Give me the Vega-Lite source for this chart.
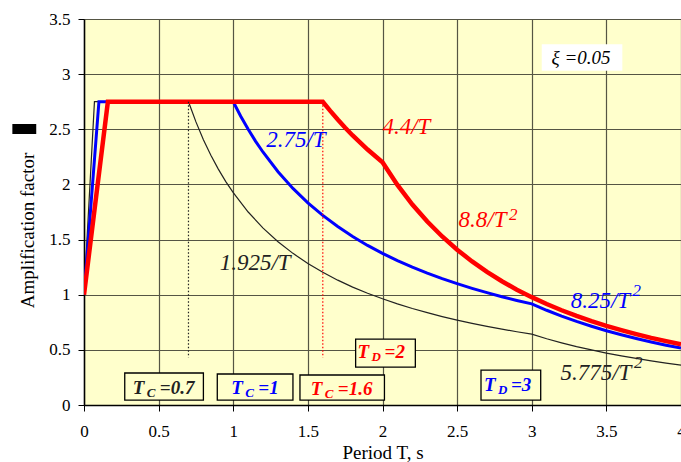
{
  "$schema": "https://vega.github.io/schema/vega-lite/v6.json",
  "width": 597,
  "height": 386,
  "autosize": {"type": "none"},
  "padding": {"left": 84, "top": 19, "right": 0, "bottom": 57},
  "background": "white",
  "config": {
    "view": {"stroke": null, "fill": "#FFFFCC"},
    "font": "Liberation Serif",
    "text": {"font": "Liberation Serif"},
    "axis": {
      "labelFont": "Liberation Serif",
      "titleFont": "Liberation Serif",
      "labelFontSize": 17,
      "titleFontSize": 19,
      "titleFontWeight": "normal",
      "labelColor": "black",
      "titleColor": "black",
      "tickColor": "black",
      "tickSize": 6,
      "domainColor": "black",
      "domainWidth": 1.5,
      "gridColor": "#555544",
      "gridWidth": 1.2,
      "gridOpacity": 1
    }
  },
  "datasets": {
    "curves": [
      {"T": 0, "A": 1, "s": "TC=0.7"}, {"T": 0.07, "A": 2.75, "s": "TC=0.7"}, {"T": 0.7, "A": 2.75, "s": "TC=0.7"},
      {"T": 0.75, "A": 2.567, "s": "TC=0.7"}, {"T": 0.8, "A": 2.406, "s": "TC=0.7"}, {"T": 0.85, "A": 2.265, "s": "TC=0.7"},
      {"T": 0.9, "A": 2.139, "s": "TC=0.7"}, {"T": 0.95, "A": 2.026, "s": "TC=0.7"}, {"T": 1.0, "A": 1.925, "s": "TC=0.7"},
      {"T": 1.1, "A": 1.75, "s": "TC=0.7"}, {"T": 1.2, "A": 1.604, "s": "TC=0.7"}, {"T": 1.3, "A": 1.481, "s": "TC=0.7"},
      {"T": 1.4, "A": 1.375, "s": "TC=0.7"}, {"T": 1.5, "A": 1.283, "s": "TC=0.7"}, {"T": 1.6, "A": 1.203, "s": "TC=0.7"},
      {"T": 1.7, "A": 1.132, "s": "TC=0.7"}, {"T": 1.8, "A": 1.069, "s": "TC=0.7"}, {"T": 1.9, "A": 1.013, "s": "TC=0.7"},
      {"T": 2.0, "A": 0.963, "s": "TC=0.7"}, {"T": 2.1, "A": 0.917, "s": "TC=0.7"}, {"T": 2.2, "A": 0.875, "s": "TC=0.7"},
      {"T": 2.3, "A": 0.837, "s": "TC=0.7"}, {"T": 2.4, "A": 0.802, "s": "TC=0.7"}, {"T": 2.5, "A": 0.77, "s": "TC=0.7"},
      {"T": 2.6, "A": 0.74, "s": "TC=0.7"}, {"T": 2.7, "A": 0.713, "s": "TC=0.7"}, {"T": 2.8, "A": 0.688, "s": "TC=0.7"},
      {"T": 2.9, "A": 0.664, "s": "TC=0.7"}, {"T": 3.0, "A": 0.642, "s": "TC=0.7"}, {"T": 3.1, "A": 0.601, "s": "TC=0.7"},
      {"T": 3.2, "A": 0.564, "s": "TC=0.7"}, {"T": 3.3, "A": 0.53, "s": "TC=0.7"}, {"T": 3.4, "A": 0.5, "s": "TC=0.7"},
      {"T": 3.5, "A": 0.471, "s": "TC=0.7"}, {"T": 3.6, "A": 0.446, "s": "TC=0.7"}, {"T": 3.7, "A": 0.422, "s": "TC=0.7"},
      {"T": 3.8, "A": 0.4, "s": "TC=0.7"}, {"T": 3.9, "A": 0.38, "s": "TC=0.7"}, {"T": 4.0, "A": 0.361, "s": "TC=0.7"},

      {"T": 0, "A": 1, "s": "TC=1"}, {"T": 0.1, "A": 2.75, "s": "TC=1"}, {"T": 1.0, "A": 2.75, "s": "TC=1"},
      {"T": 1.05, "A": 2.619, "s": "TC=1"}, {"T": 1.1, "A": 2.5, "s": "TC=1"}, {"T": 1.15, "A": 2.391, "s": "TC=1"},
      {"T": 1.2, "A": 2.292, "s": "TC=1"}, {"T": 1.3, "A": 2.115, "s": "TC=1"}, {"T": 1.4, "A": 1.964, "s": "TC=1"},
      {"T": 1.5, "A": 1.833, "s": "TC=1"}, {"T": 1.6, "A": 1.719, "s": "TC=1"}, {"T": 1.7, "A": 1.618, "s": "TC=1"},
      {"T": 1.8, "A": 1.528, "s": "TC=1"}, {"T": 1.9, "A": 1.447, "s": "TC=1"}, {"T": 2.0, "A": 1.375, "s": "TC=1"},
      {"T": 2.1, "A": 1.31, "s": "TC=1"}, {"T": 2.2, "A": 1.25, "s": "TC=1"}, {"T": 2.3, "A": 1.196, "s": "TC=1"},
      {"T": 2.4, "A": 1.146, "s": "TC=1"}, {"T": 2.5, "A": 1.1, "s": "TC=1"}, {"T": 2.6, "A": 1.058, "s": "TC=1"},
      {"T": 2.7, "A": 1.019, "s": "TC=1"}, {"T": 2.8, "A": 0.982, "s": "TC=1"}, {"T": 2.9, "A": 0.948, "s": "TC=1"},
      {"T": 3.0, "A": 0.917, "s": "TC=1"}, {"T": 3.1, "A": 0.859, "s": "TC=1"}, {"T": 3.2, "A": 0.806, "s": "TC=1"},
      {"T": 3.3, "A": 0.758, "s": "TC=1"}, {"T": 3.4, "A": 0.714, "s": "TC=1"}, {"T": 3.5, "A": 0.673, "s": "TC=1"},
      {"T": 3.6, "A": 0.637, "s": "TC=1"}, {"T": 3.7, "A": 0.603, "s": "TC=1"}, {"T": 3.8, "A": 0.571, "s": "TC=1"},
      {"T": 3.9, "A": 0.542, "s": "TC=1"}, {"T": 4.0, "A": 0.516, "s": "TC=1"},

      {"T": 0, "A": 1, "s": "TC=1.6"}, {"T": 0.16, "A": 2.75, "s": "TC=1.6"}, {"T": 1.6, "A": 2.75, "s": "TC=1.6"},
      {"T": 1.65, "A": 2.667, "s": "TC=1.6"}, {"T": 1.7, "A": 2.588, "s": "TC=1.6"}, {"T": 1.75, "A": 2.514, "s": "TC=1.6"},
      {"T": 1.8, "A": 2.444, "s": "TC=1.6"}, {"T": 1.9, "A": 2.316, "s": "TC=1.6"}, {"T": 2.0, "A": 2.2, "s": "TC=1.6"},
      {"T": 2.1, "A": 1.995, "s": "TC=1.6"}, {"T": 2.2, "A": 1.818, "s": "TC=1.6"}, {"T": 2.3, "A": 1.664, "s": "TC=1.6"},
      {"T": 2.4, "A": 1.528, "s": "TC=1.6"}, {"T": 2.5, "A": 1.408, "s": "TC=1.6"}, {"T": 2.6, "A": 1.302, "s": "TC=1.6"},
      {"T": 2.7, "A": 1.207, "s": "TC=1.6"}, {"T": 2.8, "A": 1.122, "s": "TC=1.6"}, {"T": 2.9, "A": 1.046, "s": "TC=1.6"},
      {"T": 3.0, "A": 0.978, "s": "TC=1.6"}, {"T": 3.1, "A": 0.916, "s": "TC=1.6"}, {"T": 3.2, "A": 0.859, "s": "TC=1.6"},
      {"T": 3.3, "A": 0.808, "s": "TC=1.6"}, {"T": 3.4, "A": 0.761, "s": "TC=1.6"}, {"T": 3.5, "A": 0.718, "s": "TC=1.6"},
      {"T": 3.6, "A": 0.679, "s": "TC=1.6"}, {"T": 3.7, "A": 0.643, "s": "TC=1.6"}, {"T": 3.8, "A": 0.609, "s": "TC=1.6"},
      {"T": 3.9, "A": 0.579, "s": "TC=1.6"}, {"T": 4.0, "A": 0.55, "s": "TC=1.6"}
    ],
    "rules": [
      {"T": 0.7, "y1": 2.75, "y2": 0.43, "s": "TC=0.7"},
      {"T": 1.6, "y1": 2.75, "y2": 0.43, "s": "TC=1.6"}
    ],
    "labels": [
      {"T": 1.42, "A": 2.4, "label": "2.75/T", "s": "TC=1"},
      {"T": 2.16, "A": 2.52, "label": "4.4/T", "s": "TC=1.6"},
      {"T": 2.67, "A": 1.677, "label": "8.8/T", "s": "TC=1.6"},
      {"T": 1.147, "A": 1.287, "label": "1.925/T", "s": "TC=0.7"},
      {"T": 3.46, "A": 0.943, "label": "8.25/T", "s": "TC=1"},
      {"T": 3.43, "A": 0.29, "label": "5.775/T", "s": "TC=0.7"}
    ],
    "sups": [
      {"T": 2.847, "A": 1.72, "s": "TC=1.6"},
      {"T": 3.675, "A": 1.034, "s": "TC=1"},
      {"T": 3.685, "A": 0.38, "s": "TC=0.7"}
    ],
    "boxes": [
      {"x1": 0.273, "x2": 0.8, "y1": 0.045, "y2": 0.29, "tx": 0.327, "ty": 0.1, "sub": "C", "val": "=0.7", "s": "TC=0.7"},
      {"x1": 0.893, "x2": 1.4, "y1": 0.045, "y2": 0.281, "tx": 0.987, "ty": 0.1, "sub": "C", "val": "=1", "s": "TC=1"},
      {"x1": 1.447, "x2": 2.013, "y1": 0.045, "y2": 0.272, "tx": 1.52, "ty": 0.09, "sub": "C", "val": "=1.6", "s": "TC=1.6"},
      {"x1": 1.82, "x2": 2.22, "y1": 0.344, "y2": 0.598, "tx": 1.833, "ty": 0.426, "sub": "D", "val": "=2", "s": "TC=1.6"},
      {"x1": 2.66, "x2": 3.06, "y1": 0.045, "y2": 0.317, "tx": 2.68, "ty": 0.127, "sub": "D", "val": "=3", "s": "TC=1"}
    ],
    "xi": [
      {"x1": 3.067, "x2": 3.607, "y1": 3.03, "y2": 3.27, "tx": 3.33, "ty": 3.15, "label": "ξ =0.05"}
    ],
    "marker": [
      {"x1": -0.48, "x2": -0.32, "y1": 2.457, "y2": 2.548}
    ]
  },
  "layer": [
    {
      "data": {"name": "curves"},
      "transform": [{"filter": "datum.s === 'TC=0.7'"}],
      "mark": {"type": "line", "strokeWidth": 1.2, "clip": true},
      "encoding": {
        "x": {"field": "T", "type": "quantitative", "scale": {"domain": [0, 4], "nice": false, "zero": false},
          "axis": {"values": [0, 0.5, 1, 1.5, 2, 2.5, 3, 3.5, 4], "format": "~g", "labelFlush": false, "labelPadding": 12, "title": "Period T, s", "titlePadding": 4, "labelFont": "Liberation Serif", "titleFont": "Liberation Serif"}},
        "y": {"field": "A", "type": "quantitative", "scale": {"domain": [0, 3.5], "nice": false, "zero": false},
          "axis": {"values": [0, 0.5, 1, 1.5, 2, 2.5, 3, 3.5], "format": "~g", "labelPadding": 8, "title": "Amplification factor", "titlePadding": 11, "titleY": 211, "labelFont": "Liberation Serif", "titleFont": "Liberation Serif"}},
        "color": {"field": "s", "type": "nominal", "scale": {"domain": ["TC=0.7", "TC=1", "TC=1.6"], "range": ["#222222", "#0000FF", "#FF0000"]}, "legend": null}
      }
    },
    {
      "data": {"name": "curves"},
      "transform": [{"filter": "datum.s === 'TC=1'"}],
      "mark": {"type": "line", "strokeWidth": 3, "clip": true},
      "encoding": {
        "x": {"field": "T", "type": "quantitative"},
        "y": {"field": "A", "type": "quantitative"},
        "color": {"field": "s", "type": "nominal", "legend": null}
      }
    },
    {
      "data": {"name": "curves"},
      "transform": [{"filter": "datum.s === 'TC=1.6'"}],
      "mark": {"type": "line", "strokeWidth": 4.5, "clip": true},
      "encoding": {
        "x": {"field": "T", "type": "quantitative"},
        "y": {"field": "A", "type": "quantitative"},
        "color": {"field": "s", "type": "nominal", "legend": null}
      }
    },
    {
      "data": {"name": "rules"},
      "mark": {"type": "rule", "strokeDash": [1.5, 2], "strokeWidth": 1.2},
      "encoding": {
        "x": {"field": "T", "type": "quantitative"},
        "y": {"field": "y1", "type": "quantitative"},
        "y2": {"field": "y2"},
        "color": {"field": "s", "type": "nominal", "legend": null}
      }
    },
    {
      "data": {"name": "labels"},
      "mark": {"type": "text", "font": "Liberation Serif", "fontStyle": "italic", "fontSize": 23, "align": "center", "baseline": "middle"},
      "encoding": {
        "x": {"field": "T", "type": "quantitative"},
        "y": {"field": "A", "type": "quantitative"},
        "text": {"field": "label"},
        "color": {"field": "s", "type": "nominal", "legend": null}
      }
    },
    {
      "data": {"name": "sups"},
      "mark": {"type": "text", "text": "2", "font": "Liberation Serif", "fontStyle": "italic", "fontSize": 17, "align": "left", "baseline": "middle"},
      "encoding": {
        "x": {"field": "T", "type": "quantitative"},
        "y": {"field": "A", "type": "quantitative"},
        "color": {"field": "s", "type": "nominal", "legend": null}
      }
    },
    {
      "data": {"name": "boxes"},
      "mark": {"type": "rect", "fill": "#FFFFCC", "stroke": "black", "strokeWidth": 1.3},
      "encoding": {
        "x": {"field": "x1", "type": "quantitative"},
        "x2": {"field": "x2"},
        "y": {"field": "y1", "type": "quantitative"},
        "y2": {"field": "y2"}
      }
    },
    {
      "data": {"name": "boxes"},
      "mark": {"type": "text", "text": "T", "font": "Liberation Serif", "fontStyle": "italic", "fontWeight": "bold", "fontSize": 19, "align": "left", "baseline": "alphabetic"},
      "encoding": {
        "x": {"field": "tx", "type": "quantitative"},
        "y": {"field": "ty", "type": "quantitative"},
        "color": {"field": "s", "type": "nominal", "legend": null}
      }
    },
    {
      "data": {"name": "boxes"},
      "mark": {"type": "text", "font": "Liberation Serif", "fontStyle": "italic", "fontWeight": "bold", "fontSize": 13, "align": "left", "baseline": "alphabetic", "dx": 14, "dy": 3},
      "encoding": {
        "x": {"field": "tx", "type": "quantitative"},
        "y": {"field": "ty", "type": "quantitative"},
        "text": {"field": "sub"},
        "color": {"field": "s", "type": "nominal", "legend": null}
      }
    },
    {
      "data": {"name": "boxes"},
      "mark": {"type": "text", "font": "Liberation Serif", "fontStyle": "italic", "fontWeight": "bold", "fontSize": 19, "align": "left", "baseline": "alphabetic", "dx": 27},
      "encoding": {
        "x": {"field": "tx", "type": "quantitative"},
        "y": {"field": "ty", "type": "quantitative"},
        "text": {"field": "val"},
        "color": {"field": "s", "type": "nominal", "legend": null}
      }
    },
    {
      "data": {"name": "xi"},
      "mark": {"type": "rect", "fill": "white"},
      "encoding": {
        "x": {"field": "x1", "type": "quantitative"},
        "x2": {"field": "x2"},
        "y": {"field": "y1", "type": "quantitative"},
        "y2": {"field": "y2"}
      }
    },
    {
      "data": {"name": "xi"},
      "mark": {"type": "text", "font": "Liberation Serif", "fontStyle": "italic", "fontSize": 19, "align": "center", "baseline": "middle", "color": "black"},
      "encoding": {
        "x": {"field": "tx", "type": "quantitative"},
        "y": {"field": "ty", "type": "quantitative"},
        "text": {"field": "label"}
      }
    },
    {
      "data": {"name": "marker"},
      "mark": {"type": "rect", "fill": "black"},
      "encoding": {
        "x": {"field": "x1", "type": "quantitative"},
        "x2": {"field": "x2"},
        "y": {"field": "y1", "type": "quantitative"},
        "y2": {"field": "y2"}
      }
    }
  ]
}
